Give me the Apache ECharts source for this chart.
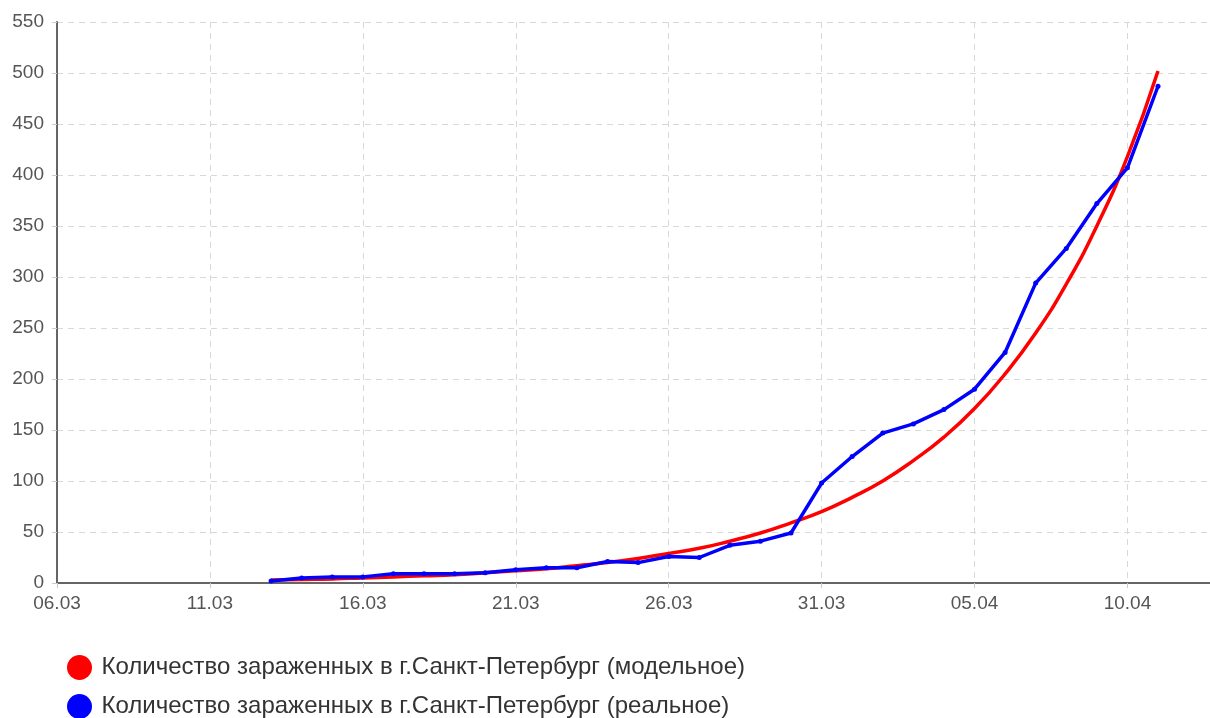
<!DOCTYPE html>
<html>
<head>
<meta charset="utf-8">
<script src="https://cdn.jsdelivr.net/npm/echarts@6/dist/echarts.min.js"></script>
<style>
    html, body { margin: 0; padding: 0; background: #fff; }
    #chart { width: 1210px; height: 718px; }
</style>
</head>
<body>
<div id="chart"></div>
<script>
// даты наблюдений (день.месяц)
var dates = ["13.03", "14.03", "15.03", "16.03", "17.03", "18.03", "19.03", "20.03", "21.03", "22.03",
    "23.03", "24.03", "25.03", "26.03", "27.03", "28.03", "29.03", "30.03", "31.03", "01.04",
    "02.04", "03.04", "04.04", "05.04", "06.04", "07.04", "08.04", "09.04", "10.04", "11.04"];
// модельное
var modelValues = [3, 3.5, 4, 5, 6, 7, 8, 10, 12, 14,
    17, 20, 24, 29, 34, 41, 49, 59, 70, 84,
    100, 120, 143, 171, 205, 245, 293, 350, 418, 502];
// реальное
var realValues = [2, 5, 6, 6, 9, 9, 9, 10, 13, 15,
    15, 21, 20, 26, 25, 37, 41, 49, 98, 124,
    147, 156, 170, 190, 226, 294, 328, 372, 407, 487];
var seriesNames = ["Количество зараженных в г.Санкт-Петербург (модельное)",
    "Количество зараженных в г.Санкт-Петербург (реальное)"];
var xTickLabels = ["06.03", "11.03", "16.03", "21.03", "26.03", "31.03", "05.04", "10.04"];
var yTicks = [0, 50, 100, 150, 200, 250, 300, 350, 400, 450, 500, 550];

var startDay = new Date(2020, 2, 6);
function dayIndex(str) {
    var p = str.split(".");
    var d = new Date(2020, parseInt(p[1], 10) - 1, parseInt(p[0], 10));
    return Math.round((d - startDay) / 86400000);
}
function toPairs(values) {
    return dates.map(function (s, i) { return [dayIndex(s), values[i]]; });
}

var font = "'Liberation Sans', Arial, sans-serif";
// растянутый круг для легенды
var ellipse = "path://M50,0A50,50,0,1,1,50,100A50,50,0,1,1,50,0Z";

function makeLegend(name, top) {
    return {
        data: [name],
        left: 62,
        top: top,
        icon: ellipse,
        itemWidth: 30,
        itemHeight: 25,
        selectedMode: false,
        textStyle: {
            fontFamily: font,
            fontSize: 24,
            color: "#333",
            padding: [0, 0, 0, 2]
        }
    };
}

var myChart = echarts.init(document.getElementById("chart"));
var option = {
    animation: false,
    color: ["#ff0000", "#0000ff"],
    grid: {
        left: 57,
        right: 0,
        top: 22,
        bottom: 135
    },
    legend: [makeLegend(seriesNames[0], 650), makeLegend(seriesNames[1], 689)],
    xAxis: {
        type: "value",
        min: 0,
        max: 37.7,
        interval: 5,
        axisLine: { lineStyle: { color: "#666", width: 2 } },
        axisTick: { show: true, length: 5, lineStyle: { color: "#ccc" } },
        axisLabel: {
            margin: 11,
            color: "#555",
            fontSize: 19,
            fontFamily: font,
            showMaxLabel: false,
            formatter: function (v) {
                return xTickLabels[v / 5] || "";
            }
        },
        splitLine: { show: true, lineStyle: { color: "#d8d8d8", type: [6, 5] } }
    },
    yAxis: {
        type: "value",
        min: yTicks[0],
        max: yTicks[yTicks.length - 1],
        interval: 50,
        axisLine: { show: true, lineStyle: { color: "#666", width: 2 } },
        axisTick: { show: true, length: 5, lineStyle: { color: "#ccc" } },
        axisLabel: {
            margin: 13,
            color: "#555",
            fontSize: 19,
            fontFamily: font
        },
        splitLine: { show: true, lineStyle: { color: "#d8d8d8", type: [6, 5] } }
    },
    series: [
        {
            name: seriesNames[0],
            type: "line",
            smooth: true,
            showSymbol: false,
            lineStyle: { width: 3.5, color: "#ff0000" },
            itemStyle: { color: "#ff0000" },
            data: toPairs(modelValues)
        },
        {
            name: seriesNames[1],
            type: "line",
            symbol: "circle",
            symbolSize: 5,
            lineStyle: { width: 3.5, color: "#0000ff" },
            itemStyle: { color: "#0000ff" },
            data: toPairs(realValues)
        }
    ]
};
myChart.setOption(option);
window.addEventListener("resize", function () {
    myChart.resize();
});
</script>
</body>
</html>
